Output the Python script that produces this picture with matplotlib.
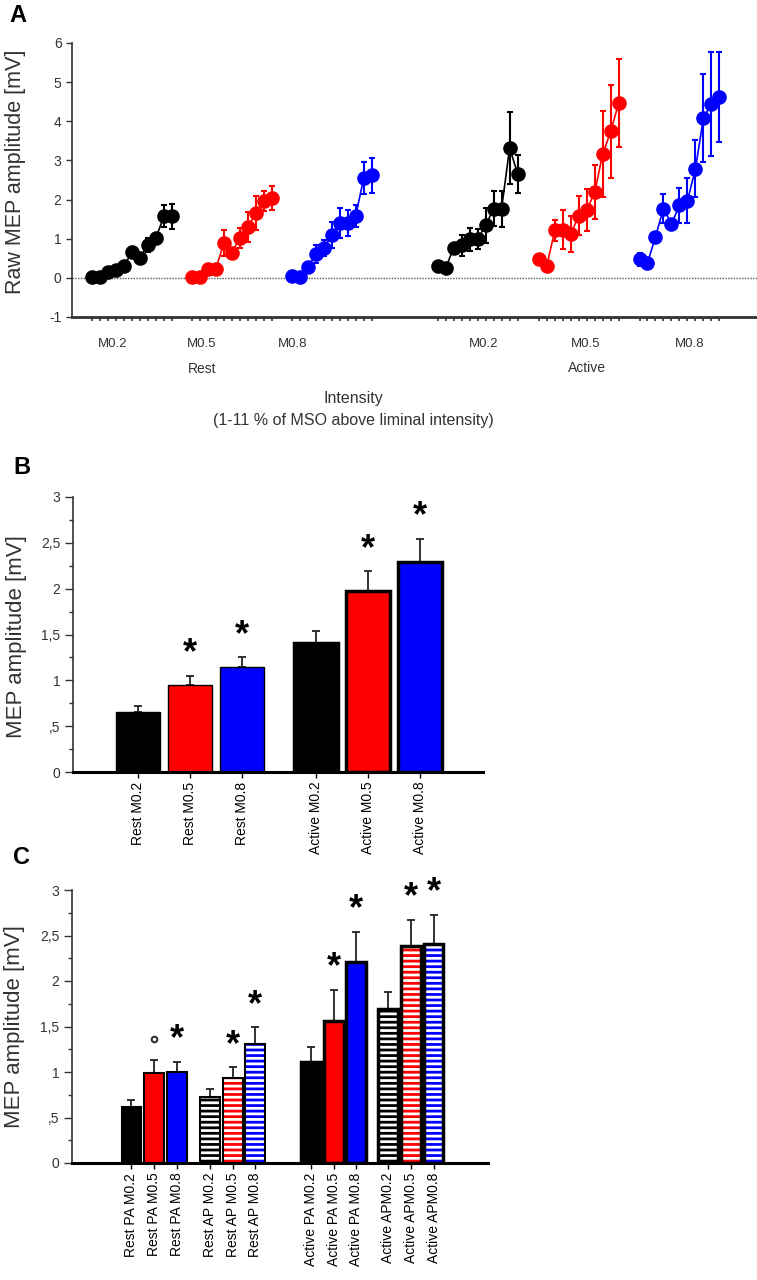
import numpy as np
import matplotlib.pyplot as plt

plt.rcParams['font.family'] = ['Liberation Sans', 'DejaVu Sans']
plt.rcParams['hatch.linewidth'] = 2.0
plt.rcParams['axes.unicode_minus'] = False

W, H = 757, 1280
def fx(px):
    return px / W
def fy(py):
    return 1 - py / H

# ---------------- Panel A: raw MEP amplitude, 11 intensities per condition
a_groups = ['Rest M0.2', 'Rest M0.5', 'Rest M0.8', 'Active M0.2', 'Active M0.5', 'Active M0.8']
a_colors = ['#000000', '#ff0000', '#0000ff', '#000000', '#ff0000', '#0000ff']
a_mean = [
    [0.03, 0.03, 0.14, 0.20, 0.30, 0.66, 0.51, 0.85, 1.02, 1.57, 1.57],
    [0.03, 0.03, 0.23, 0.23, 0.89, 0.64, 1.02, 1.29, 1.66, 1.96, 2.04],
    [0.06, 0.03, 0.27, 0.60, 0.77, 1.09, 1.40, 1.40, 1.59, 2.55, 2.62],
    [0.30, 0.25, 0.77, 0.83, 0.98, 1.00, 1.34, 1.77, 1.77, 3.32, 2.66],
    [0.49, 0.31, 1.21, 1.23, 1.12, 1.59, 1.73, 2.19, 3.17, 3.74, 4.47],
    [0.47, 0.38, 1.05, 1.77, 1.38, 1.85, 1.97, 2.79, 4.09, 4.44, 4.62],
]
a_se = [
    [0.02, 0.02, 0.05, 0.05, 0.06, 0.14, 0.10, 0.18, 0.10, 0.28, 0.32],
    [0.02, 0.02, 0.05, 0.05, 0.34, 0.06, 0.26, 0.38, 0.44, 0.26, 0.30],
    [0.03, 0.03, 0.06, 0.23, 0.20, 0.33, 0.38, 0.34, 0.28, 0.42, 0.45],
    [0.05, 0.05, 0.08, 0.27, 0.29, 0.26, 0.45, 0.44, 0.46, 0.93, 0.48],
    [0.06, 0.06, 0.28, 0.50, 0.45, 0.49, 0.53, 0.69, 1.10, 1.18, 1.12],
    [0.17, 0.06, 0.10, 0.38, 0.10, 0.45, 0.58, 0.73, 1.12, 1.33, 1.16],
]
a_labels = ['M0.2', 'M0.5', 'M0.8', 'M0.2', 'M0.5', 'M0.8']

# ---------------- Panel B
b_labels = ['Rest M0.2', 'Rest M0.5', 'Rest M0.8', 'Active M0.2', 'Active M0.5', 'Active M0.8']
b_mean = [0.66, 0.95, 1.15, 1.41, 1.98, 2.29]
b_se = [0.06, 0.10, 0.10, 0.13, 0.21, 0.25]
b_colors = ['#000000', '#ff0000', '#0000ff', '#000000', '#ff0000', '#0000ff']
b_star = [None, '*', '*', None, '*', '*']

# ---------------- Panel C
c_labels = ['Rest PA M0.2', 'Rest PA M0.5', 'Rest PA M0.8',
            'Rest AP M0.2', 'Rest AP M0.5', 'Rest AP M0.8',
            'Active PA M0.2', 'Active PA M0.5', 'Active PA M0.8',
            'Active APM0.2', 'Active APM0.5', 'Active APM0.8']
c_mean = [0.61, 0.99, 1.00, 0.72, 0.93, 1.31, 1.11, 1.56, 2.21, 1.69, 2.39, 2.41]
c_se = [0.08, 0.14, 0.11, 0.09, 0.12, 0.18, 0.17, 0.34, 0.33, 0.19, 0.28, 0.32]
c_colors = ['#000000', '#ff0000', '#0000ff'] * 4
c_striped = [False] * 3 + [True] * 3 + [False] * 3 + [True] * 3
c_mark = [None, 'o', '*', None, '*', '*', None, '*', '*', None, '*', '*']

fig = plt.figure(figsize=(W / 100, H / 100), dpi=100)

# ================= A
axA = fig.add_axes([fx(72), fy(317), 1 - fx(72), fy(43) - fy(317)])
starts = [0, 12.5, 25, 43.25, 55.9, 68.5]
for s, m, e, c in zip(starts, a_mean, a_se, a_colors):
    xs = s + np.arange(len(m))
    axA.errorbar(xs, m, yerr=e, fmt='o-', color=c, ms=9.5, lw=1.2,
                 elinewidth=1.5, capsize=2, capthick=1.5, zorder=3)
axA.axhline(0, color='#555555', ls=(0, (1, 1)), lw=1, zorder=1)
axA.set_xlim(-2.5, 83.2)
axA.set_ylim(-1, 6)
axA.set_yticks(range(-1, 7))
minor = np.concatenate([s + np.arange(11) for s in starts])
axA.set_xticks(minor, minor=True)
axA.set_xticks([2.6, 13.75, 25.1, 49.0, 61.75, 74.75])
axA.set_xticklabels(a_labels, fontsize=9.5, color='#333333')
axA.tick_params(axis='x', which='major', length=0, pad=15)
axA.tick_params(axis='x', which='minor', length=3, width=1.2, color='#333333')
axA.tick_params(axis='y', length=4, width=1, labelsize=10, labelcolor='#333333', color='#333333')
for sp in ['top', 'right']:
    axA.spines[sp].set_visible(False)
axA.spines['left'].set_linewidth(1.2)
axA.spines['left'].set_color('#333333')
axA.spines['bottom'].set_linewidth(2)
axA.spines['bottom'].set_color('#333333')
fig.text(fx(202), fy(369), 'Rest', ha='center', va='center', fontsize=10, color='#333333')
fig.text(fx(587), fy(368), 'Active', ha='center', va='center', fontsize=10, color='#333333')
fig.text(fx(353), fy(398), 'Intensity', ha='center', va='center', fontsize=11.5, color='#333333')
fig.text(fx(353), fy(420), '(1-11 % of MSO above liminal intensity)', ha='center', va='center',
         fontsize=11.5, color='#333333')
fig.text(fx(16), fy(172), 'Raw MEP amplitude [mV]', rotation=90, ha='center', va='center',
         fontsize=15.5, color='#333333')
fig.text(fx(18), fy(15), 'A', ha='center', va='center', fontsize=17, fontweight='bold')

yt = [0, 0.5, 1, 1.5, 2, 2.5, 3]
ytl = ['0', ',5', '1', '1,5', '2', '2,5', '3']

def style_bar_axes(ax):
    ax.set_ylim(0, 3)
    ax.set_yticks(yt)
    ax.set_yticklabels(ytl)
    ax.set_yticks(np.arange(0, 3.01, 0.25), minor=True)
    ax.tick_params(axis='y', which='major', length=6, width=1, labelsize=10,
                   labelcolor='#333333', color='#333333', pad=3)
    ax.tick_params(axis='y', which='minor', length=3, width=1, color='#333333')
    ax.tick_params(axis='x', length=4, width=1, labelsize=10, rotation=90, pad=3)
    for sp in ['top', 'right']:
        ax.spines[sp].set_visible(False)
    ax.spines['left'].set_linewidth(1.2)
    ax.spines['left'].set_color('#333333')
    ax.spines['bottom'].set_linewidth(2.2)

# ================= B
axB = fig.add_axes([fx(73), fy(772), fx(483) - fx(73), fy(497) - fy(772)])
xb = np.array([0, 1, 2, 3.42, 4.42, 5.42])
for i in range(len(b_mean)):
    lw = 1.0 if i < 3 else 2.5
    axB.bar(xb[i], b_mean[i], 0.85, color=b_colors[i], edgecolor='k', lw=lw, zorder=2)
axB.errorbar(xb, b_mean, yerr=[np.zeros(len(b_se)), b_se], fmt='none', ecolor='#222222',
             elinewidth=1.3, capsize=3, capthick=1.3, zorder=1)
for i, s in enumerate(b_star):
    if s:
        axB.annotate(s, (xb[i], b_mean[i] + b_se[i]), xytext=(0, 9), textcoords='offset points',
                     ha='center', va='baseline', fontsize=26, fontweight='bold')
axB.set_xlim(-1.25, 6.63)
axB.set_xticks(xb)
axB.set_xticklabels(b_labels)
style_bar_axes(axB)
fig.text(fx(17), fy(637), 'MEP amplitude [mV]', rotation=90, ha='center', va='center',
         fontsize=16, color='#333333')
fig.text(fx(22), fy(467), 'B', ha='center', va='center', fontsize=17, fontweight='bold')

# ================= C
axC = fig.add_axes([fx(72), fy(1163), fx(488) - fx(72), fy(890) - fy(1163)])
xc = np.array([0, 1, 2, 3.45, 4.45, 5.45, 7.9, 8.9, 9.9, 11.3, 12.3, 13.3])
for i in range(len(c_mean)):
    lw = 1.5 if i < 6 else 2.5
    if c_striped[i]:
        axC.bar(xc[i], c_mean[i], 0.88, color=c_colors[i], edgecolor='white', hatch='---',
                lw=0, zorder=2)
        axC.bar(xc[i], c_mean[i], 0.88, fill=False, edgecolor='k', lw=lw, zorder=3)
    else:
        axC.bar(xc[i], c_mean[i], 0.88, color=c_colors[i], edgecolor='k', lw=lw, zorder=2)
axC.errorbar(xc, c_mean, yerr=[np.zeros(len(c_se)), c_se], fmt='none', ecolor='#222222',
             elinewidth=1.3, capsize=3, capthick=1.3, zorder=1)
for i, s in enumerate(c_mark):
    top = c_mean[i] + c_se[i]
    if s == '*':
        axC.annotate(s, (xc[i], top), xytext=(0, 9), textcoords='offset points',
                     ha='center', va='baseline', fontsize=26, fontweight='bold')
    elif s == 'o':
        axC.plot(xc[i], top + 0.23, 'o', ms=4, mfc='white', mec='#333333', mew=1.5)
axC.set_xlim(-2.62, 15.7)
axC.set_xticks(xc)
axC.set_xticklabels(c_labels)
style_bar_axes(axC)
fig.text(fx(15), fy(1027), 'MEP amplitude [mV]', rotation=90, ha='center', va='center',
         fontsize=16, color='#333333')
fig.text(fx(22), fy(858), 'C', ha='center', va='center', fontsize=17, fontweight='bold')

fig.savefig('out.png', dpi=100)
